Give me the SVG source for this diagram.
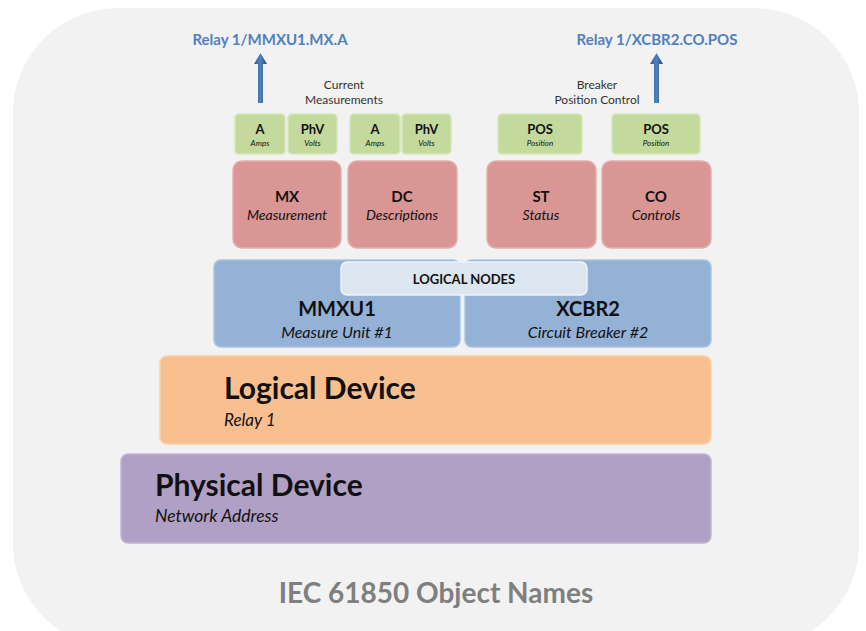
<svg xmlns="http://www.w3.org/2000/svg" width="866" height="631" viewBox="0 0 866 631">
<style>
text{font-family:Lato,"Open Sans","Liberation Sans",sans-serif;text-anchor:middle;fill:#111}
.b{font-weight:bold}
.i{font-style:italic}
.g rect{fill:#c4da9c;stroke:#d6e7b9;stroke-width:1.5}
.r rect{fill:#d99694;stroke:#e4aeac;stroke-width:1.5}
.bl rect{fill:#94b2d6;stroke:#aac3e0;stroke-width:1.5}
.lbl{fill:#4f81bd;font-weight:bold;font-size:15px}
.note{font-size:12px;fill:#333}
</style>
<defs>
<linearGradient id="ag" x1="0" x2="1" y1="0" y2="0">
<stop offset="0" stop-color="#2f5f9e"/><stop offset="0.5" stop-color="#4f81bd"/><stop offset="1" stop-color="#254d85"/>
</linearGradient>
</defs>
<rect width="866" height="631" fill="#ffffff"/>
<rect x="13" y="8" width="846" height="640" rx="105" fill="#f2f2f2"/>

<g id="connectors">
<path d="M258,103 V64 H254 L260.5,53 L267,64 H263 V103 Z" fill="url(#ag)"/>
<path d="M654,103 V64 H650 L656.5,53 L663,64 H659 V103 Z" fill="url(#ag)"/>
</g>

<g id="label-mmxu"><text class="lbl" x="270" y="45">Relay 1/MMXU1.MX.A</text></g>
<g id="label-xcbr"><text class="lbl" x="657" y="45">Relay 1/XCBR2.CO.POS</text></g>
<g id="note-current"><text class="note" x="344" y="89">Current</text><text class="note" x="344" y="104">Measurements</text></g>
<g id="note-breaker"><text class="note" x="597" y="89">Breaker</text><text class="note" x="597" y="104">Position Control</text></g>

<g id="da-a1" class="g"><rect x="235" y="114" width="50" height="40" rx="4"/><text class="b" x="260" y="134" font-size="13">A</text><text class="i" x="260" y="146" font-size="8">Amps</text></g>
<g id="da-phv1" class="g"><rect x="288" y="114" width="49" height="40" rx="4"/><text class="b" x="312.5" y="134" font-size="13">PhV</text><text class="i" x="312.5" y="146" font-size="8">Volts</text></g>
<g id="da-a2" class="g"><rect x="350" y="114" width="50" height="40" rx="4"/><text class="b" x="375" y="134" font-size="13">A</text><text class="i" x="375" y="146" font-size="8">Amps</text></g>
<g id="da-phv2" class="g"><rect x="402" y="114" width="49" height="40" rx="4"/><text class="b" x="426.5" y="134" font-size="13">PhV</text><text class="i" x="426.5" y="146" font-size="8">Volts</text></g>
<g id="da-pos1" class="g"><rect x="498" y="114" width="84" height="40" rx="4"/><text class="b" x="540" y="134" font-size="13">POS</text><text class="i" x="540" y="146" font-size="8">Position</text></g>
<g id="da-pos2" class="g"><rect x="612" y="114" width="88" height="40" rx="4"/><text class="b" x="656" y="134" font-size="13">POS</text><text class="i" x="656" y="146" font-size="8">Position</text></g>

<g id="fc-mx" class="r"><rect x="233" y="161" width="108" height="87" rx="9"/><text class="b" x="287" y="202" font-size="15">MX</text><text class="i" x="287" y="220" font-size="14">Measurement</text></g>
<g id="fc-dc" class="r"><rect x="348" y="161" width="109" height="87" rx="9"/><text class="b" x="402" y="202" font-size="15">DC</text><text class="i" x="402" y="220" font-size="14">Descriptions</text></g>
<g id="fc-st" class="r"><rect x="487" y="161" width="109" height="87" rx="9"/><text class="b" x="541" y="202" font-size="15">ST</text><text class="i" x="541" y="220" font-size="14">Status</text></g>
<g id="fc-co" class="r"><rect x="602" y="161" width="109" height="87" rx="9"/><text class="b" x="656" y="202" font-size="15">CO</text><text class="i" x="656" y="220" font-size="14">Controls</text></g>

<g id="ln-mmxu1" class="bl"><rect x="214" y="260" width="246" height="87" rx="7"/><text class="b" x="337" y="316" font-size="20">MMXU1</text><text class="i" x="337" y="338" font-size="16">Measure Unit #1</text></g>
<g id="ln-xcbr2" class="bl"><rect x="465" y="260" width="246" height="87" rx="7"/><text class="b" x="588" y="316" font-size="20">XCBR2</text><text class="i" x="588" y="338" font-size="16">Circuit Breaker #2</text></g>
<g id="logical-nodes"><rect x="341" y="262" width="246" height="33" rx="6" fill="#dce6f1" stroke="#eef3f9" stroke-width="1.5"/><text class="b" x="464" y="284" font-size="13">LOGICAL NODES</text></g>

<g id="logical-device"><rect x="160" y="356" width="551" height="88" rx="7" fill="#f9bf8f" stroke="#fbd0ab" stroke-width="1.5"/><text class="b" x="224" y="399" font-size="30" style="text-anchor:start">Logical Device</text><text class="i" x="224" y="426" font-size="17" style="text-anchor:start">Relay 1</text></g>
<g id="physical-device"><rect x="121" y="454" width="590" height="89" rx="7" fill="#b1a0c6" stroke="#c2b4d4" stroke-width="1.5"/><text class="b" x="155" y="496" font-size="30" style="text-anchor:start">Physical Device</text><text class="i" x="155" y="522" font-size="17.5" style="text-anchor:start">Network Address</text></g>

<g id="title"><text class="b" x="436" y="603" font-size="28" style="fill:#7f7f7f">IEC 61850 Object Names</text></g>
</svg>
